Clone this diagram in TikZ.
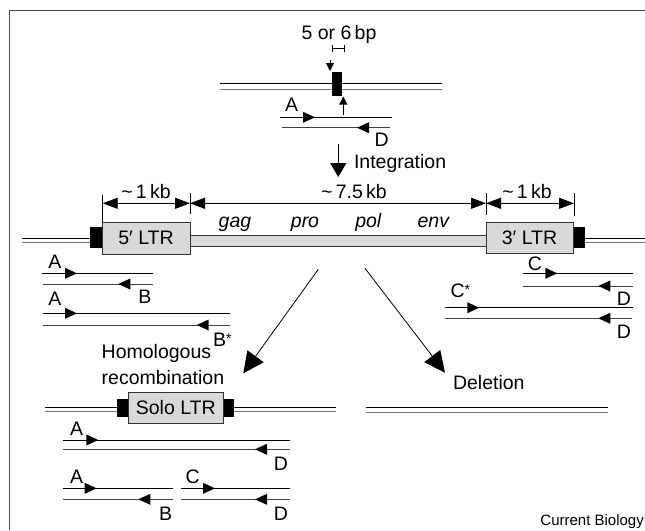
\documentclass[tikz,border=0pt]{standalone}
\usepackage{fontspec}
\setmainfont{Liberation Sans}
\usetikzlibrary{arrows.meta}
\newcommand\prR[4]{%
  \draw[prline] (#1,#3) -- (#2,#3);
  \fill (#4,#3) -- ++(-12,-5.5) -- ++(0,11) -- cycle;}
\newcommand\prL[4]{%
  \draw[prline,black!75] (#1,#3) -- (#2,#3);
  \fill (#4,#3) -- ++(12,-5.5) -- ++(0,11) -- cycle;}
\begin{document}
\begin{tikzpicture}[x=1pt,y=-1pt,
  lbl/.style={inner sep=0pt, outer sep=0pt, font=\fontsize{19.5}{22}\selectfont},
  ltrbox/.style={draw=black!80, fill=black!15, line width=1pt, inner sep=0pt, outer sep=0pt,
     font=\fontsize{19.5}{22}\selectfont},
  tsdbox/.style={fill=black, draw=none, inner sep=0pt, outer sep=0pt},
  dnaA/.style={line width=1pt, black},
  dnaB/.style={line width=1pt, black!55},
  prline/.style={line width=1pt},
  dimline/.style={line width=0.9pt, {Triangle[length=15pt,width=11pt]}-{Triangle[length=15pt,width=11pt]}},
  extline/.style={line width=0.8pt},
  bigarrow/.style={line width=0.8pt, -{Triangle[length=21pt,width=20pt]}},
]
\useasboundingbox (0,0) rectangle (645,530);
% frame
\draw[line width=1.5pt, black!70] (9.5,530) -- (9.5,10.5) -- (645,10.5);

% ---------- top: target site ----------
\node[lbl, anchor=base] (bp) at (339,39) {5 or 6\,bp};
\draw[line width=0.7pt] (332,45) -- (332,52) (332,48.3) -- (344,48.3) (344,45) -- (344,52);
\draw[dnaA] (220,83) -- (442,83);
\draw[dnaB] (220,89) -- (442,89);
\node[tsdbox, minimum width=10pt, minimum height=24pt] (tsd0) at (337,84) {};
\coordinate (dn0) at (330,60);
\draw[line width=0.8pt, -{Triangle[length=8pt,width=8pt]}] (dn0) -- (330,71);
\coordinate (up0) at (343.3,115);
\draw[line width=0.8pt, -{Triangle[length=8pt,width=8pt]}] (up0) -- (343.3,96.5);
\prR{280}{392}{117.3}{315}
\prL{282}{390}{127.7}{357}
\node[lbl] (a0) at (291.7,105) {A};
\node[lbl] (d0) at (381.7,140) {D};
\coordinate (int0) at (338.3,144);
\coordinate (int1) at (338.3,177);
\draw[line width=0.9pt, -{Triangle[length=14pt,width=16pt]}] (int0) -- (int1);
\node[lbl, anchor=base west] (integ) at (354,168) {Integration};

% ---------- provirus ----------
\draw[dnaA] (22,238) -- (90,238);
\draw[dnaB] (22,242) -- (90,242);
\draw[dnaA] (585,238) -- (645,238);
\draw[dnaB] (585,242) -- (645,242);
\node[ltrbox, minimum width=296pt, minimum height=11pt, anchor=north west] (body) at (190,235) {};
\node[tsdbox, minimum width=12pt, minimum height=21pt] (tsdL) at (96,237.5) {};
\node[tsdbox, minimum width=12pt, minimum height=21pt] (tsdR) at (579,237.5) {};
\node[ltrbox, minimum width=88pt, minimum height=32pt] (ltr5) at (146,238) {5\char"2032\ LTR};
\node[ltrbox, minimum width=87pt, minimum height=31pt] (ltr3) at (529.5,237.5) {3\char"2032\ LTR};

% dimension lines
\draw[extline] (102.7,195) -- (102.7,222);
\draw[extline] (190,193) -- (190,214);
\draw[extline] (486,193) -- (486,215);
\draw[extline] (574,193) -- (574,216);
\coordinate (m0) at (102.7,203.3);
\coordinate (m1) at (190,203.3);
\coordinate (m2) at (486,203.3);
\coordinate (m3) at (574,203.3);
\draw[dimline] (m0) -- (m1);
\draw[dimline] (m1) -- (m2);
\draw[dimline] (m2) -- (m3);
\node[lbl, anchor=base] (kb1) at (146,198) {\textasciitilde\,1\,kb};
\node[lbl, anchor=base] (kb75) at (354,198) {\textasciitilde\,7.5\,kb};
\node[lbl, anchor=base] (kb2) at (527,198) {\textasciitilde\,1\,kb};
\node[lbl, anchor=base] (gag) at (235,227) {\itshape gag};
\node[lbl, anchor=base] (pro) at (305,227) {\itshape pro};
\node[lbl, anchor=base] (pol) at (368.3,227) {\itshape pol};
\node[lbl, anchor=base] (env) at (433.3,227) {\itshape env};

% primers under 5' LTR
\prR{42}{153}{273.3}{77}
\prL{43}{153}{284}{118.3}
\prR{43}{230}{313.3}{77}
\prL{43}{230}{325}{196.7}
\node[lbl] (a1) at (55,261.7) {A};
\node[lbl] (b1) at (145,296.7) {B};
\node[lbl] (a2) at (55,298.3) {A};
\node[lbl, anchor=base west] (b2) at (213,346) {B\raisebox{3pt}{\fontsize{14}{14}\selectfont *}};
% primers under 3' LTR
\prR{523}{633}{273.3}{557.3}
\prL{523}{633}{286}{598.3}
\prR{445}{633}{307.7}{479.3}
\prL{445}{632}{318.3}{598.3}
\node[lbl] (c1) at (535,263.3) {C};
\node[lbl] (d1) at (624,298.3) {D};
\node[lbl, anchor=base west] (c2) at (450.5,297) {C\raisebox{3pt}{\fontsize{14}{14}\selectfont *}};
\node[lbl] (d2) at (624,331.7) {D};

% ---------- outcomes ----------
\coordinate (s0) at (318.3,269.3);
\coordinate (s1) at (243.3,373.3);
\coordinate (t0) at (365,268.3);
\coordinate (t1) at (445,372.7);
\draw[bigarrow] (s0) -- (s1);
\draw[bigarrow] (t0) -- (t1);
\node[lbl, anchor=base west] (hom) at (101.7,358.3) {Homologous};
\node[lbl, anchor=base west] (rec) at (101.7,384) {recombination};
\node[lbl, anchor=base west] (del) at (453,389.3) {Deletion};

% solo LTR
\draw[dnaA] (45,407.7) -- (118,407.7);
\draw[dnaB] (45,411.7) -- (118,411.7);
\draw[dnaA] (234,407.7) -- (336,407.7);
\draw[dnaB] (234,411.7) -- (336,411.7);
\node[tsdbox, minimum width=11pt, minimum height=17.7pt] (tsdS1) at (122.8,407.8) {};
\node[tsdbox, minimum width=11pt, minimum height=17.7pt] (tsdS2) at (228.8,407.8) {};
\node[ltrbox, minimum width=95pt, minimum height=30.6pt] (solo) at (175.8,408) {Solo LTR};
% deletion
\draw[dnaA] (366,407.7) -- (608.3,407.7);
\draw[dnaB] (366,412) -- (608.3,412);

% primers under solo LTR
\prR{63}{290}{440}{98.3}
\prL{63}{290}{449.3}{255}
\prR{63}{173}{488.3}{96.7}
\prL{63}{173}{499.3}{138.3}
\prR{181}{290}{488.3}{215}
\prL{181}{290}{499.3}{255}
\node[lbl] (a3) at (76.7,428.3) {A};
\node[lbl] (d3) at (281,463.3) {D};
\node[lbl] (a4) at (76.7,476.7) {A};
\node[lbl] (b4) at (165.7,513.3) {B};
\node[lbl] (c4) at (192.7,476.7) {C};
\node[lbl] (d4) at (281,513.3) {D};

\node[inner sep=0pt, anchor=base east, font=\fontsize{15}{18}\selectfont] (cb) at (644,525) {Current Biology};
\end{tikzpicture}
\end{document}
